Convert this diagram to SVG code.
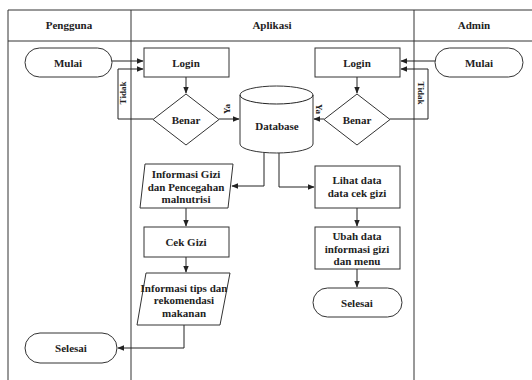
<svg xmlns="http://www.w3.org/2000/svg" width="532" height="380" viewBox="0 0 532 380" font-family="'Liberation Serif', 'DejaVu Serif', serif">
<defs>
<style>
.lane{fill:none;stroke:#333;stroke-width:1}
.shape{fill:#fff;stroke:#333;stroke-width:1}
.t{font-family:'Liberation Serif','DejaVu Serif',serif;font-weight:bold;font-size:11px;fill:#222;text-anchor:middle;dominant-baseline:central}
.s{font-size:9px}
.c{fill:none;stroke:#222;stroke-width:1}
</style>
<marker id="arr" viewBox="0 0 10 10" refX="9" refY="5" markerWidth="7" markerHeight="7" orient="auto"><path d="M0,1 L10,5 L0,9 z" fill="#222"/></marker>
</defs>
<rect width="532" height="380" fill="#fff"/>
<g id="lanes">
<path class="lane" d="M8,380 V10 H532 M8,41 H532 M131,10 V380 M414,10 V380"/>
<text class="t" x="69" y="25">Pengguna</text>
<text class="t" x="272" y="25">Aplikasi</text>
<text class="t" x="474" y="25">Admin</text>
</g>
<g id="connectors">
<path class="c" d="M112,61 H143" marker-end="url(#arr)"/>
<path class="c" d="M153,119 H118 V69 H143" marker-end="url(#arr)"/>
<path class="c" d="M186,77 V93" marker-end="url(#arr)"/>
<path class="c" d="M219,119 H239" marker-end="url(#arr)"/>
<path class="c" d="M435,61 H401" marker-end="url(#arr)"/>
<path class="c" d="M390,119 H428 V69 H401" marker-end="url(#arr)"/>
<path class="c" d="M357,77 V93" marker-end="url(#arr)"/>
<path class="c" d="M324,119 H314" marker-end="url(#arr)"/>
<path class="c" d="M264,153 V186 H232" marker-end="url(#arr)"/>
<path class="c" d="M279,153 V187 H314" marker-end="url(#arr)"/>
<path class="c" d="M186,208 V226" marker-end="url(#arr)"/>
<path class="c" d="M186,257 V272" marker-end="url(#arr)"/>
<path class="c" d="M184,325 V348 H118" marker-end="url(#arr)"/>
<path class="c" d="M357,208 V226" marker-end="url(#arr)"/>
<path class="c" d="M357,269 V287" marker-end="url(#arr)"/>
<text class="t s" x="123" y="93" transform="rotate(-90 123 93)">Tidak</text>
<text class="t s" x="421" y="93" transform="rotate(90 421 93)">Tidak</text>
<text class="t s" x="227" y="109" transform="rotate(-90 227 109)">Ya</text>
<text class="t s" x="319" y="109" transform="rotate(90 319 109)">Ya</text>
</g>
<g id="mulai-pengguna">
<rect class="shape" x="25" y="48" width="87" height="29" rx="14.5"/>
<text class="t" x="68" y="62.5">Mulai</text>
</g>
<g id="login-app">
<rect class="shape" x="144" y="48" width="85" height="29"/>
<text class="t" x="186" y="62.5">Login</text>
</g>
<g id="benar-app">
<polygon class="shape" points="186,94 219,119.5 186,145 153,119.5"/>
<text class="t" x="186" y="119.5">Benar</text>
</g>
<g id="database">
<path class="shape" d="M240,95 A36.5,9 0 0 1 313,95 V144 A36.5,9 0 0 1 240,144 Z"/>
<path class="c" d="M240,95 A36.5,9 0 0 0 313,95"/>
<text class="t" x="277" y="126">Database</text>
</g>
<g id="login-admin">
<rect class="shape" x="315" y="48" width="85" height="29"/>
<text class="t" x="357" y="62.5">Login</text>
</g>
<g id="benar-admin">
<polygon class="shape" points="357,94 390,119.5 357,145 324,119.5"/>
<text class="t" x="357" y="119.5">Benar</text>
</g>
<g id="mulai-admin">
<rect class="shape" x="435" y="48" width="88" height="29" rx="14.5"/>
<text class="t" x="479" y="62.5">Mulai</text>
</g>
<g id="info-gizi">
<polygon class="shape" points="145,164 233,164 228,208 140,208"/>
<text class="t" x="186" y="174">Informasi Gizi</text>
<text class="t" x="186" y="186.5">dan Pencegahan</text>
<text class="t" x="186" y="199">malnutrisi</text>
</g>
<g id="cek-gizi">
<rect class="shape" x="144" y="227" width="85" height="30"/>
<text class="t" x="186" y="242">Cek Gizi</text>
</g>
<g id="info-tips">
<polygon class="shape" points="146,273 230,273 220,325 137,325"/>
<text class="t" x="184" y="287.5">Informasi tips dan</text>
<text class="t" x="184" y="300">rekomendasi</text>
<text class="t" x="184" y="312.5">makanan</text>
</g>
<g id="selesai-pengguna">
<rect class="shape" x="25" y="333" width="92" height="30" rx="15"/>
<text class="t" x="71" y="348">Selesai</text>
</g>
<g id="lihat-data">
<rect class="shape" x="315" y="166" width="85" height="42"/>
<text class="t" x="357" y="180">Lihat data</text>
<text class="t" x="357" y="193">data cek gizi</text>
</g>
<g id="ubah-data">
<rect class="shape" x="315" y="227" width="85" height="42"/>
<text class="t" x="357" y="236">Ubah data</text>
<text class="t" x="357" y="248.5">informasi gizi</text>
<text class="t" x="357" y="261">dan menu</text>
</g>
<g id="selesai-admin">
<rect class="shape" x="313" y="288" width="89" height="29" rx="14.5"/>
<text class="t" x="357" y="302.5">Selesai</text>
</g>
</svg>
